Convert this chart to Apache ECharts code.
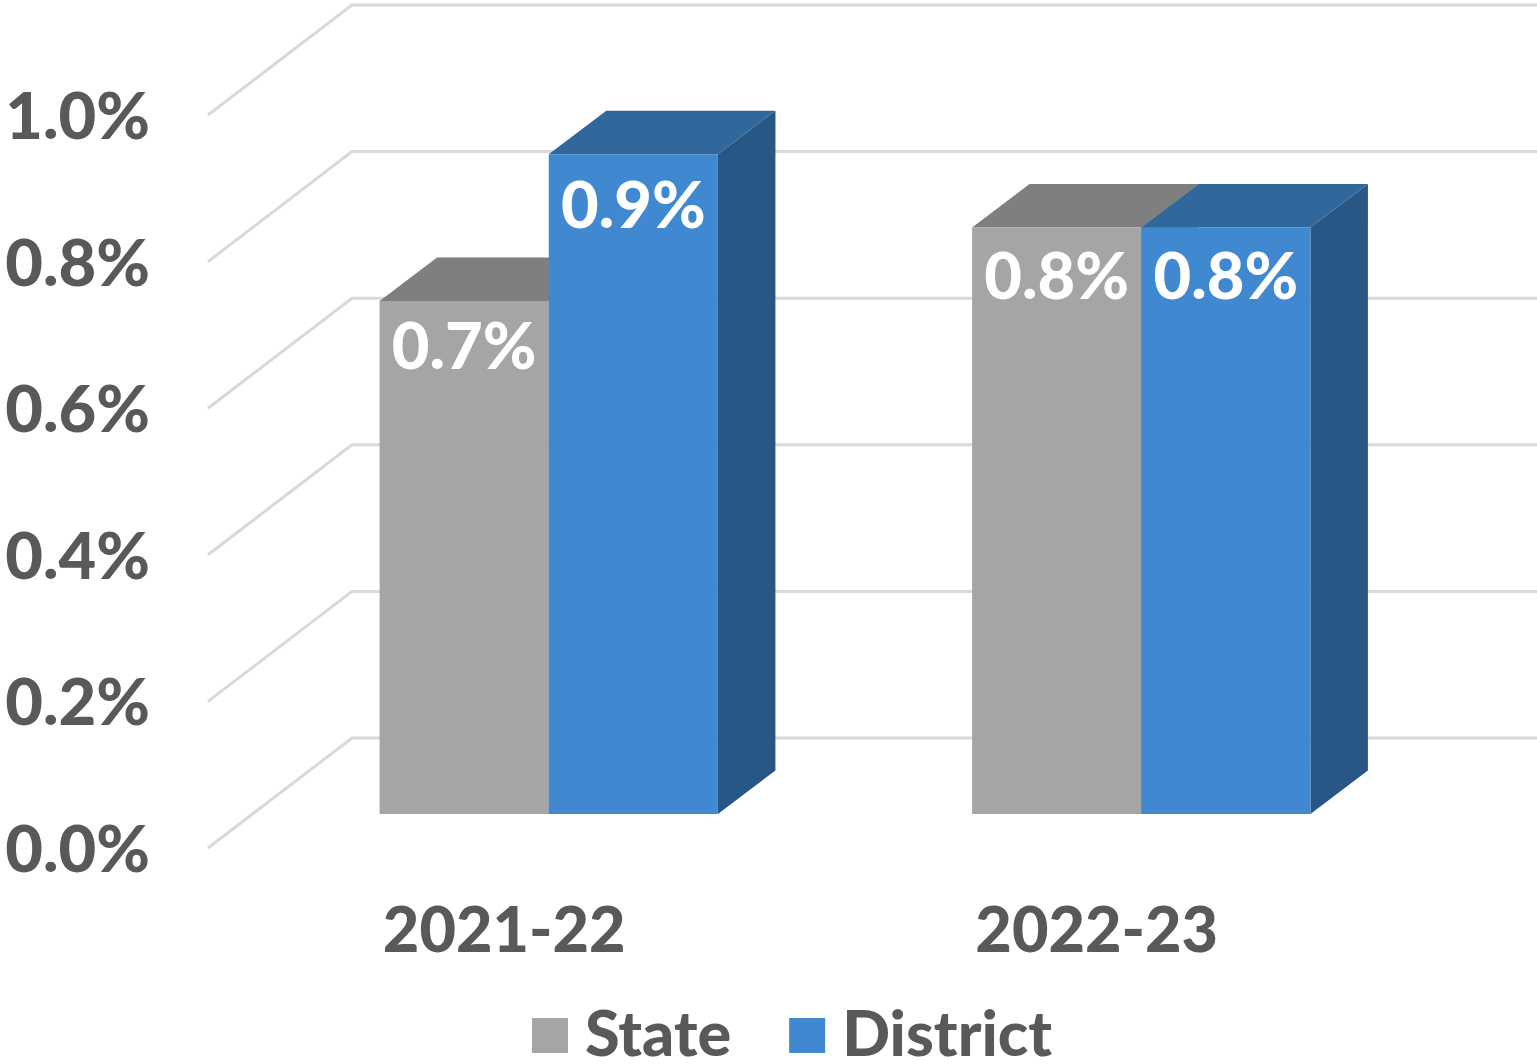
<!DOCTYPE html>
<html><head><meta charset="utf-8">
<style>html,body{margin:0;padding:0;background:#fff}#c{width:1537px;height:1064px}</style>
<script src="https://cdn.jsdelivr.net/npm/echarts@6/dist/echarts.min.js"></script>
</head><body><div id="c"></div>
<script>
const categories = ['2021-22', '2022-23'];
const stateValues = [0.7, 0.8];
const districtValues = [0.9, 0.8];
const ticks = [0, 0.2, 0.4, 0.6, 0.8, 1.0];

const FONT = 'Lato, "Open Sans", sans-serif';
const floor = [144, -110], barOff = [44.5, -34], depth = [57.5, -43.5], barFrac = 0.2855;
const pct = v => v.toFixed(1) + '%';
const chart = echarts.init(document.getElementById('c'), null, {renderer: 'canvas'});

function poly(points, fill) {
  return {type: 'polygon', shape: {points}, style: {fill}};
}
function barSeries(name, values, side, colors) {
  return {
    type: 'custom', name, z: 3, clip: false,
    itemStyle: {color: colors[0]},
    data: values.map((v, i) => [i, v]),
    encode: {x: 0, y: 1},
    renderItem(params, api) {
      const i = api.value(0), v = api.value(1);
      const top = api.coord([i, v]), base = api.coord([i, 0]);
      const w = api.size([1, 0])[0] * barFrac;
      const x0 = top[0] + barOff[0] + (side === 0 ? -w : 0), x1 = x0 + w;
      const yT = top[1] + barOff[1], yB = base[1] + barOff[1];
      return {type: 'group', children: [
        poly([[x1, yT], [x1 + depth[0], yT + depth[1]], [x1 + depth[0], yB + depth[1]], [x1, yB]], colors[2]),
        poly([[x0, yT], [x0 + depth[0], yT + depth[1]], [x1 + depth[0], yT + depth[1]], [x1, yT]], colors[1]),
        poly([[x0, yT], [x1, yT], [x1, yB], [x0, yB]], colors[0]),
        {type: 'text', z2: 10, style: {
          text: pct(v), x: (x0 + x1) / 2, y: yT + 47 + (v - 0.7) * 30,
          fill: '#fff', font: '900 65px ' + FONT, textAlign: 'center', textVerticalAlign: 'middle'}}
      ]};
    }
  };
}

chart.setOption({
  animation: false,
  backgroundColor: '#fff',
  grid: {left: 208, top: 115, width: 1185, height: 733, containLabel: false},
  legend: {
    left: 527, top: 999, itemWidth: 36, itemHeight: 35, itemGap: 58, icon: 'rect',
    data: ['State', 'District'],
    textStyle: {color: '#595959', fontFamily: FONT, fontWeight: 900, fontSize: 63, padding: [0, 0, 0, 12]}
  },
  xAxis: {
    type: 'category', data: categories,
    axisLine: {show: false}, axisTick: {show: false}, splitLine: {show: false},
    axisLabel: {color: '#595959', fontFamily: FONT, fontWeight: 900, fontSize: 63, margin: 52}
  },
  yAxis: {
    type: 'value', min: 0, max: 1, interval: 0.2,
    axisLine: {show: false}, axisTick: {show: false}, splitLine: {show: false},
    axisLabel: {color: '#595959', fontFamily: FONT, fontWeight: 900, fontSize: 65, margin: 58,
      verticalAlign: 'top', lineHeight: 6, formatter: v => pct(v)}
  },
  series: [
    {
      type: 'custom', name: 'walls', z: 1, silent: true, clip: false,
      data: ticks.map(t => [t]),
      encode: {y: 0},
      renderItem(params, api) {
        const t = api.value(0);
        const a = api.coord([0, t]);
        const left = params.coordSys.x, right = left + params.coordSys.width;
        const y = a[1];
        return {type: 'polyline', shape: {points: [
          [left, y], [left + floor[0], y + floor[1]], [right + floor[0], y + floor[1]]
        ]}, style: {fill: 'none', stroke: '#d9d9d9', lineWidth: 3}};
      }
    },
    barSeries('State', stateValues, 0, ['#a5a5a5', '#7f7f7f', '#7c7c7c']),
    barSeries('District', districtValues, 1, ['#4088d0', '#30689e', '#295785'])
  ]
});
</script></body></html>
